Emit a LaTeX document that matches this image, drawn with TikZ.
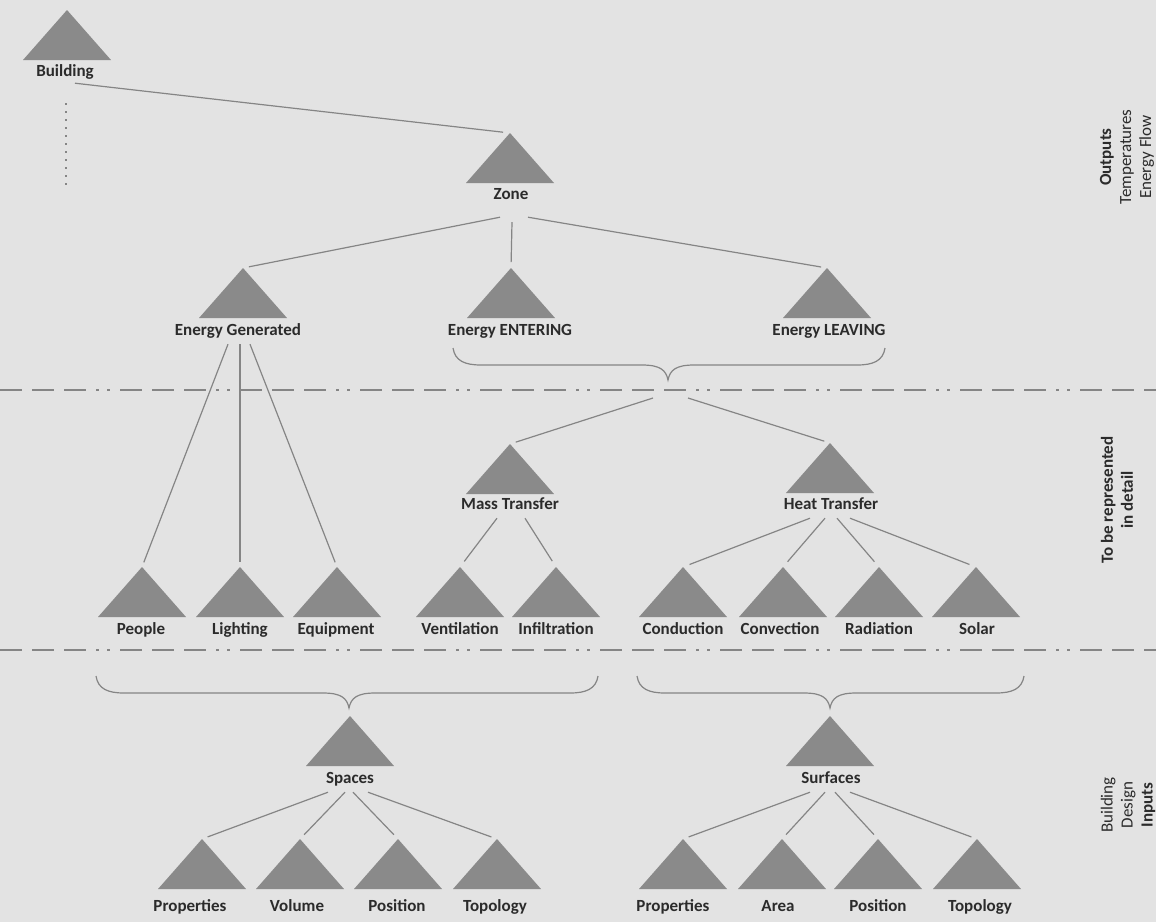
\documentclass[tikz,border=0pt]{standalone}
\usepackage{fontspec}
\setmainfont{Carlito}
\definecolor{bg}{HTML}{E3E3E3}
\definecolor{trifill}{HTML}{8A8A8A}
\definecolor{txt}{HTML}{2B2B2B}
\definecolor{linec}{HTML}{858585}
\newcommand\mybrace[4]{%
  \draw[conn] ({#1},{#4}) .. controls ({#1+2},{#4+13}) and ({#1+12},{#4+17}) .. ({#1+28},{#4+17})
    -- ({#2-26},{#4+17}) .. controls ({#2-8},{#4+17}) and ({#2-2},{#4+22}) .. ({#2},{#4+32})
    .. controls ({#2+2},{#4+22}) and ({#2+8},{#4+17}) .. ({#2+26},{#4+17})
    -- ({#3-28},{#4+17}) .. controls ({#3-12},{#4+17}) and ({#3-2},{#4+13}) .. ({#3},{#4});}
\begin{document}
\begin{tikzpicture}[x=1pt,y=-1pt,
  lbl/.style={font=\fontsize{17}{20}\selectfont\bfseries, text=txt, inner sep=1pt, text height=12pt, text depth=4pt},
  tri/.style={minimum width=88pt, minimum height=50pt, inner sep=0pt, outer sep=0pt, anchor=north,
    path picture={\fill[trifill] (path picture bounding box.south west) -- (path picture bounding box.north) -- (path picture bounding box.south east) -- cycle;}},
  conn/.style={draw=linec, line width=1.2pt},
  sepline/.style={draw=linec, line width=1.2pt, dash pattern=on 22pt off 10pt on 22pt off 10pt on 22pt off 10pt on 3pt off 8pt on 3pt off 10pt},
  dotline/.style={draw=linec, line width=1.2pt, dash pattern=on 2pt off 6pt},
  side/.style={font=\fontsize{17}{20}\selectfont, text=txt, rotate=90, align=center, inner sep=0pt}]
\useasboundingbox (0,0) rectangle (1156,922);
\fill[bg] (0,0) rectangle (1156,922);
\clip (0,0) rectangle (1156,922);

% separators
\draw[sepline] (0,390) -- (1156,390);
\draw[sepline] (0,650) -- (1156,650);

% triangles
\node[tri] (buildT) at (67,10) {};
\node[tri] (zoneT) at (510,133) {};
\node[tri] (genT) at (243,268) {};
\node[tri] (entT) at (511,268) {};
\node[tri] (leaT) at (827,268) {};
\node[tri] (massT) at (510,444) {};
\node[tri] (heatT) at (830,443) {};
\node[tri] (peoT) at (142,567) {};
\node[tri] (ligT) at (240,567) {};
\node[tri] (equT) at (337,567) {};
\node[tri] (venT) at (460,567) {};
\node[tri] (infT) at (556,567) {};
\node[tri] (conT) at (683,567) {};
\node[tri] (cnvT) at (783,567) {};
\node[tri] (radT) at (879,567) {};
\node[tri] (solT) at (976,567) {};
\node[tri] (spaT) at (350,716) {};
\node[tri] (surT) at (830,716) {};
\node[tri] (p1T) at (202,839) {};
\node[tri] (volT) at (300,839) {};
\node[tri] (pos1T) at (398,839) {};
\node[tri] (top1T) at (497,839) {};
\node[tri] (p2T) at (683,839) {};
\node[tri] (areT) at (782,839) {};
\node[tri] (pos2T) at (878,839) {};
\node[tri] (top2T) at (977,839) {};

% labels
\node[lbl] (buildL) at (65,72) {Building};
\node[lbl] (zoneL) at (511,195) {Zone};
\node[lbl] (genL) at (238,331) {Energy Generated};
\node[lbl] (entL) at (510,331) {Energy ENTERING};
\node[lbl] (leaL) at (829,331) {Energy LEAVING};
\node[lbl] (massL) at (510,505) {Mass Transfer};
\node[lbl] (heatL) at (831,505) {Heat Transfer};
\node[lbl] (peoL) at (141,630) {People};
\node[lbl] (ligL) at (240,630) {Lighting};
\node[lbl] (equL) at (336,630) {Equipment};
\node[lbl] (venL) at (460,630) {Ventilation};
\node[lbl] (infL) at (556,630) {Infiltration};
\node[lbl] (conL) at (683,630) {Conduction};
\node[lbl] (cnvL) at (780,630) {Convection};
\node[lbl] (radL) at (879,630) {Radiation};
\node[lbl] (solL) at (977,630) {Solar};
\node[lbl] (spaL) at (350,779) {Spaces};
\node[lbl] (surL) at (831,779) {Surfaces};
\node[lbl] (p1L) at (190,907) {Properties};
\node[lbl] (volL) at (297,907) {Volume};
\node[lbl] (pos1L) at (397,907) {Position};
\node[lbl] (top1L) at (495,907) {Topology};
\node[lbl] (p2L) at (673,907) {Properties};
\node[lbl] (areL) at (778,907) {Area};
\node[lbl] (pos2L) at (878,907) {Position};
\node[lbl] (top2L) at (980,907) {Topology};

% side texts
\node[side] (outS) at (1127,157) {\textbf{Outputs}\\Temperatures\\Energy Flow};
\node[side, font=\fontsize{17}{20}\selectfont\bfseries] (detS) at (1117,500) {To be represented\\in detail};
\node[side] (inS) at (1128,805) {Building\\Design\\\textbf{Inputs}};

% connectors
\coordinate (dotA) at (66,103);
\coordinate (dotB) at (66,185);
\draw[dotline] (dotA) -- (dotB);
\draw[conn, shorten >=7pt] ([xshift=10pt,yshift=-2pt]buildL.south) -- (zoneT.north);
\draw[conn, shorten >=6pt] ([xshift=-11pt,yshift=-13pt]zoneL.south) -- (genT.north);
\draw[conn, shorten >=6pt] ([xshift=1pt,yshift=-18pt]zoneL.south) -- (entT.north);
\draw[conn, shorten >=6pt] ([xshift=17pt,yshift=-13pt]zoneL.south) -- (leaT.north);

\draw[conn, shorten >=5pt] ([xshift=-10pt,yshift=-4pt]genL.south) -- (peoT.north);
\draw[conn, shorten >=5pt] ([xshift=2pt,yshift=-4pt]genL.south) -- (ligT.north);
\draw[conn, shorten >=5pt] ([xshift=12pt,yshift=-4pt]genL.south) -- (equT.north);

% top brace
\mybrace{453}{668}{885}{348}
\coordinate (tipA) at (668,380);
\draw[conn, shorten >=6pt] ([xshift=-15pt,yshift=-18pt]tipA) -- (massT.north);
\draw[conn, shorten >=6pt] ([xshift=20pt,yshift=-18pt]tipA) -- (heatT.north);

\draw[conn, shorten >=7pt] ([xshift=-13pt,yshift=-4pt]massL.south) -- (venT.north);
\draw[conn, shorten >=7pt] ([xshift=15pt,yshift=-4pt]massL.south) -- (infT.north);

\draw[conn, shorten >=7pt] ([xshift=-21pt,yshift=-4pt]heatL.south) -- (conT.north);
\draw[conn, shorten >=7pt] ([xshift=-6pt,yshift=-4pt]heatL.south) -- (cnvT.north);
\draw[conn, shorten >=7pt] ([xshift=6pt,yshift=-4pt]heatL.south) -- (radT.north);
\draw[conn, shorten >=7pt] ([xshift=19pt,yshift=-4pt]heatL.south) -- (solT.north);

% bottom braces
\mybrace{96}{349}{598}{676}
\mybrace{637}{830}{1024}{676}

\draw[conn, shorten >=6pt] ([xshift=-22pt,yshift=-4pt]spaL.south) -- (p1T.north);
\draw[conn, shorten >=6pt] ([xshift=-5pt,yshift=-4pt]spaL.south) -- (volT.north);
\draw[conn, shorten >=6pt] ([xshift=3pt,yshift=-4pt]spaL.south) -- (pos1T.north);
\draw[conn, shorten >=6pt] ([xshift=18pt,yshift=-4pt]spaL.south) -- (top1T.north);

\draw[conn, shorten >=6pt] ([xshift=-21pt,yshift=-4pt]surL.south) -- (p2T.north);
\draw[conn, shorten >=6pt] ([xshift=-6pt,yshift=-4pt]surL.south) -- (areT.north);
\draw[conn, shorten >=6pt] ([xshift=4pt,yshift=-4pt]surL.south) -- (pos2T.north);
\draw[conn, shorten >=6pt] ([xshift=19pt,yshift=-4pt]surL.south) -- (top2T.north);
\end{tikzpicture}
\end{document}
